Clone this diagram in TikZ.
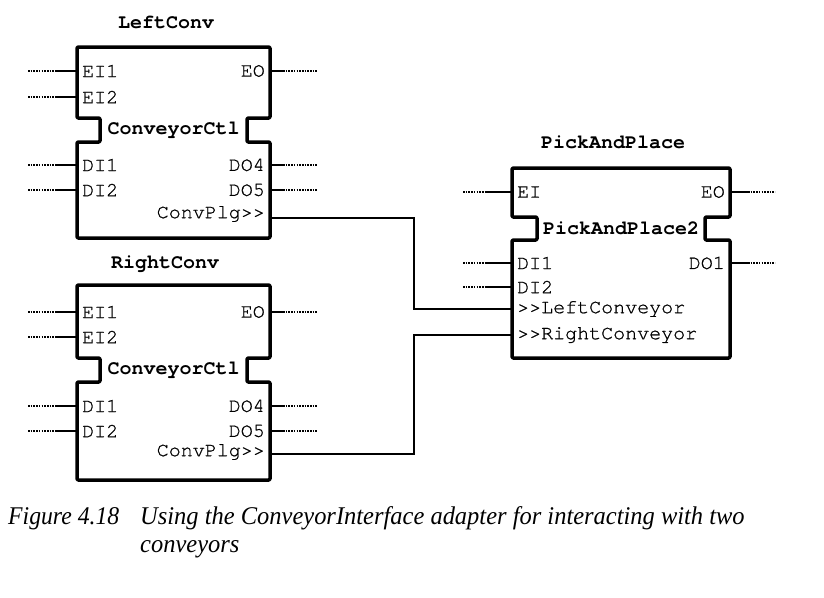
\documentclass[tikz,border=0pt]{standalone}
\usepackage{fontspec}
\setmainfont{Liberation Serif}
\newfontfamily\cursorf{TeX Gyre Cursor}
\newfontfamily\cursorr{TeX Gyre Cursor}[FakeBold=0.8]
\begin{document}
\begin{tikzpicture}[x=1pt,y=-1pt,
  blk/.style={line width=3.5pt, rounded corners=1.2pt, line join=round},
  pinl/.style={line width=1.5pt},
  dotl/.style={line width=1.3pt, dash pattern=on 1.6pt off 1.1pt},
  conn/.style={line width=1.6pt},
  lbl/.style={font=\cursorr\fontsize{20}{20}\selectfont, inner sep=0pt},
  ttl/.style={font=\cursorf\bfseries\fontsize{20}{20}\selectfont, inner sep=0pt},
  captxt/.style={font=\itshape\fontsize{25.5}{28}\selectfont, inner sep=0pt, anchor=base west}]
\useasboundingbox (0,0) rectangle (824,597);

% ---------- LeftConv ----------
\node[ttl] (lct) at (166,22) {LeftConv};
\draw[blk] (77,47) -- (270,47) -- (270,118) -- (247,118) -- (247,142) -- (270,142) -- (270,238) -- (77,238) -- (77,142) -- (100,142) -- (100,118) -- (77,118) -- cycle;
\node[ttl] (lctype) at (173.5,130) {ConveyorCtl};
\foreach \n/\y/\t in {lcei1/71/EI1, lcei2/97/EI2, lcdi1/165/DI1, lcdi2/190/DI2}{
  \coordinate (\n) at (77,\y);
  \coordinate (\n s) at (57,\y);
  \coordinate (\n d) at (28,\y);
  \draw[pinl] (\n s) -- (\n);
  \draw[dotl] (\n d) -- (\n s);
  \node[lbl, anchor=west] (\n l) at (82,\y) {\t};
}
\foreach \n/\y/\t in {lceo/71/EO, lcdo4/165/DO4, lcdo5/190/DO5}{
  \coordinate (\n) at (270,\y);
  \coordinate (\n s) at (283,\y);
  \coordinate (\n d) at (317,\y);
  \draw[pinl] (\n) -- (\n s);
  \draw[dotl] (\n s) -- (\n d);
  \node[lbl, anchor=east] (\n l) at (265,\y) {\t};
}
\coordinate (lcplg) at (270,218);
\node[lbl, anchor=east] (lcplgl) at (265,214) {ConvPlg>{}>};

% ---------- RightConv ----------
\node[ttl] (rct) at (165,264) {RightConv};
\draw[blk] (77,285) -- (270,285) -- (270,358) -- (247,358) -- (247,382) -- (270,382) -- (270,480) -- (77,480) -- (77,382) -- (100,382) -- (100,358) -- (77,358) -- cycle;
\node[ttl] (rctype) at (173.5,370) {ConveyorCtl};
\foreach \n/\y/\t in {rcei1/312/EI1, rcei2/337/EI2, rcdi1/406/DI1, rcdi2/431/DI2}{
  \coordinate (\n) at (77,\y);
  \coordinate (\n s) at (57,\y);
  \coordinate (\n d) at (28,\y);
  \draw[pinl] (\n s) -- (\n);
  \draw[dotl] (\n d) -- (\n s);
  \node[lbl, anchor=west] (\n l) at (82,\y) {\t};
}
\foreach \n/\y/\t in {rceo/312/EO, rcdo4/406/DO4, rcdo5/431/DO5}{
  \coordinate (\n) at (270,\y);
  \coordinate (\n s) at (283,\y);
  \coordinate (\n d) at (317,\y);
  \draw[pinl] (\n) -- (\n s);
  \draw[dotl] (\n s) -- (\n d);
  \node[lbl, anchor=east] (\n l) at (265,\y) {\t};
}
\coordinate (rcplg) at (270,454);
\node[lbl, anchor=east] (rcplgl) at (265,452) {ConvPlg>{}>};

% ---------- PickAndPlace ----------
\node[ttl] (ppt) at (613,142) {PickAndPlace};
\draw[blk] (512,168) -- (730,168) -- (730,217) -- (705,217) -- (705,240) -- (730,240) -- (730,358) -- (512,358) -- (512,240) -- (537,240) -- (537,217) -- (512,217) -- cycle;
\node[ttl] (pptype) at (621,228.5) {PickAndPlace2};
\foreach \n/\y/\t in {ppei/192/EI, ppdi1/263/DI1, ppdi2/287/DI2}{
  \coordinate (\n) at (512,\y);
  \coordinate (\n s) at (486,\y);
  \coordinate (\n d) at (463,\y);
  \draw[pinl] (\n s) -- (\n);
  \draw[dotl] (\n d) -- (\n s);
  \node[lbl, anchor=west] (\n l) at (517,\y) {\t};
}
\foreach \n/\y/\t in {ppeo/192/EO, ppdo1/263/DO1}{
  \coordinate (\n) at (730,\y);
  \coordinate (\n s) at (748,\y);
  \coordinate (\n d) at (775,\y);
  \draw[pinl] (\n) -- (\n s);
  \draw[dotl] (\n s) -- (\n d);
  \node[lbl, anchor=east] (\n l) at (725,\y) {\t};
}
\coordinate (ppleft) at (512,309);
\coordinate (ppright) at (512,335);
\node[lbl, anchor=west] (pplefl) at (517,309) {>{}>LeftConveyor};
\node[lbl, anchor=west] (pprigl) at (517,335) {>{}>RightConveyor};

% ---------- connections ----------
\draw[conn] (lcplg) -- ++(144,0) |- (ppleft);
\draw[conn] (rcplg) -- ++(144,0) |- (ppright);

% ---------- caption ----------
\node[captxt] (capa) at (8,524) {\scalebox{0.93}[1]{Figure 4.18}};
\node[captxt] (capb) at (140,524) {\scalebox{0.96}[1]{Using the ConveyorInterface adapter for interacting with two}};
\node[captxt] (capc) at (140,552) {\scalebox{0.96}[1]{conveyors}};
\end{tikzpicture}
\end{document}
